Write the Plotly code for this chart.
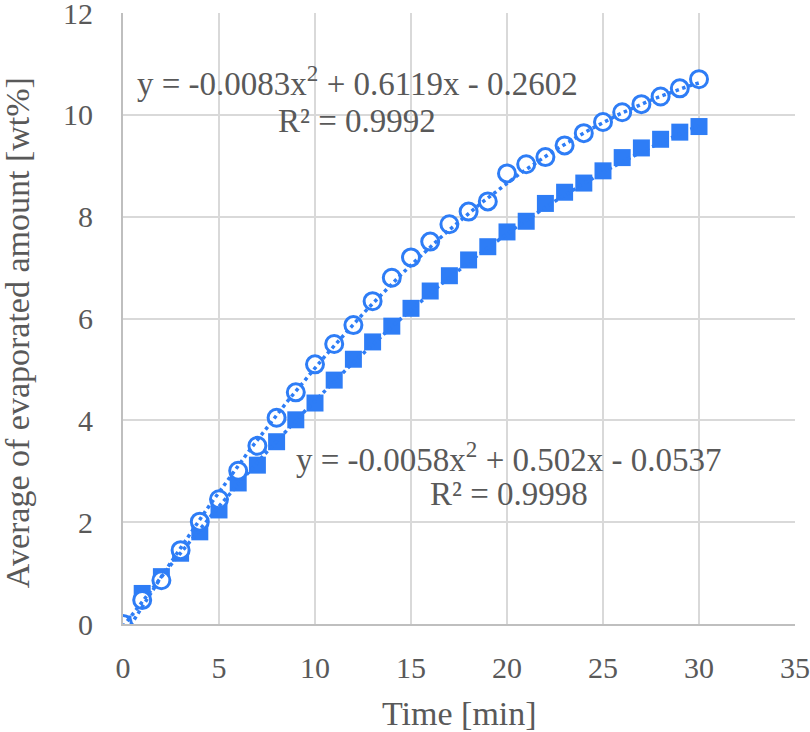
import numpy as np
import plotly.graph_objects as go

time_min = list(range(0, 31))
series_circle = [0.0, 0.47, 0.86, 1.45, 2.01, 2.45, 3.01, 3.50, 4.05, 4.55, 5.10,
                 5.50, 5.87, 6.34, 6.80, 7.20, 7.51, 7.85, 8.10, 8.30, 8.85,
                 9.03, 9.17, 9.40, 9.64, 9.86, 10.05, 10.21, 10.36, 10.52, 10.70]
series_square = [0.0, 0.60, 0.93, 1.39, 1.81, 2.24, 2.77, 3.12, 3.58, 4.01, 4.34,
                 4.79, 5.20, 5.54, 5.85, 6.20, 6.54, 6.84, 7.15, 7.41, 7.70,
                 7.91, 8.26, 8.48, 8.66, 8.90, 9.16, 9.35, 9.52, 9.66, 9.77]
coef_circle = [-0.0083, 0.6119, -0.2602]
coef_square = [-0.0058, 0.502, -0.0537]
label_circle = ["y = -0.0083x<sup>2</sup> + 0.6119x - 0.2602", "R² = 0.9992"]
label_square = ["y = -0.0058x<sup>2</sup> + 0.502x - 0.0537", "R² = 0.9998"]
x_ticks = [0, 5, 10, 15, 20, 25, 30, 35]
y_ticks = [0, 2, 4, 6, 8, 10, 12]
x_title = "Time [min]"
y_title = "Average of evaporated amount [wt%]"

blue = "rgb(46,125,246)"
txt = "#595959"
font = "Liberation Serif"

x_fit = np.linspace(0, 30, 121)

fig = go.Figure()
fig.add_trace(go.Scatter(x=time_min, y=series_square, mode="markers",
                         marker=dict(symbol="square", size=17, color=blue, line=dict(width=0)),
                         showlegend=False))
fig.add_trace(go.Scatter(x=time_min, y=series_circle, mode="markers",
                         marker=dict(symbol="circle", size=17, color="white",
                                     line=dict(width=3, color=blue)),
                         showlegend=False))
fig.add_trace(go.Scatter(x=x_fit, y=np.polyval(coef_square, x_fit), mode="lines",
                         line=dict(color=blue, width=3.5, dash="dot"), showlegend=False))
fig.add_trace(go.Scatter(x=x_fit, y=np.polyval(coef_circle, x_fit), mode="lines",
                         line=dict(color=blue, width=3.5, dash="dot"), showlegend=False))

ann_font = dict(family=font, size=33, color=txt)
annotations = [
    dict(x=12.21, y=10.67, text=label_circle[0]),
    dict(x=12.21, y=9.88, text=label_circle[1]),
    dict(x=20.1, y=3.28, text=label_square[0]),
    dict(x=20.1, y=2.56, text=label_square[1]),
]
for a in annotations:
    a.update(xref="x", yref="y", showarrow=False, font=ann_font, xanchor="center", yanchor="middle")

title_font = dict(family=font, size=34, color=txt)
annotations.append(dict(x=0.5, y=-0.1457, xref="paper", yref="paper", text=x_title,
                        showarrow=False, font=title_font, xanchor="center", yanchor="middle"))
annotations.append(dict(x=-0.156, y=0.4763, xref="paper", yref="paper", text=y_title,
                        showarrow=False, font=title_font, textangle=-90,
                        xanchor="center", yanchor="middle"))

fig.update_layout(
    width=810, height=732,
    margin=dict(l=123, r=15, t=13, b=108),
    paper_bgcolor="white", plot_bgcolor="white",
    annotations=annotations,
    xaxis=dict(range=[0, 35], tickvals=x_ticks, showgrid=True, gridcolor="#d9d9d9", gridwidth=2,
               zeroline=False, showline=True, linecolor="#bfbfbf", linewidth=2,
               tickfont=dict(family=font, size=30, color=txt), ticks="",
               ticklabelstandoff=16, ticklabeloverflow="allow", automargin=False),
    yaxis=dict(range=[0, 12], tickvals=y_ticks, showgrid=True, gridcolor="#d9d9d9", gridwidth=2,
               zeroline=False, showline=True, linecolor="#bfbfbf", linewidth=2,
               tickfont=dict(family=font, size=30, color=txt), ticks="",
               ticklabelstandoff=22, ticklabeloverflow="allow", automargin=False),
)
fig.write_html("out.html")
